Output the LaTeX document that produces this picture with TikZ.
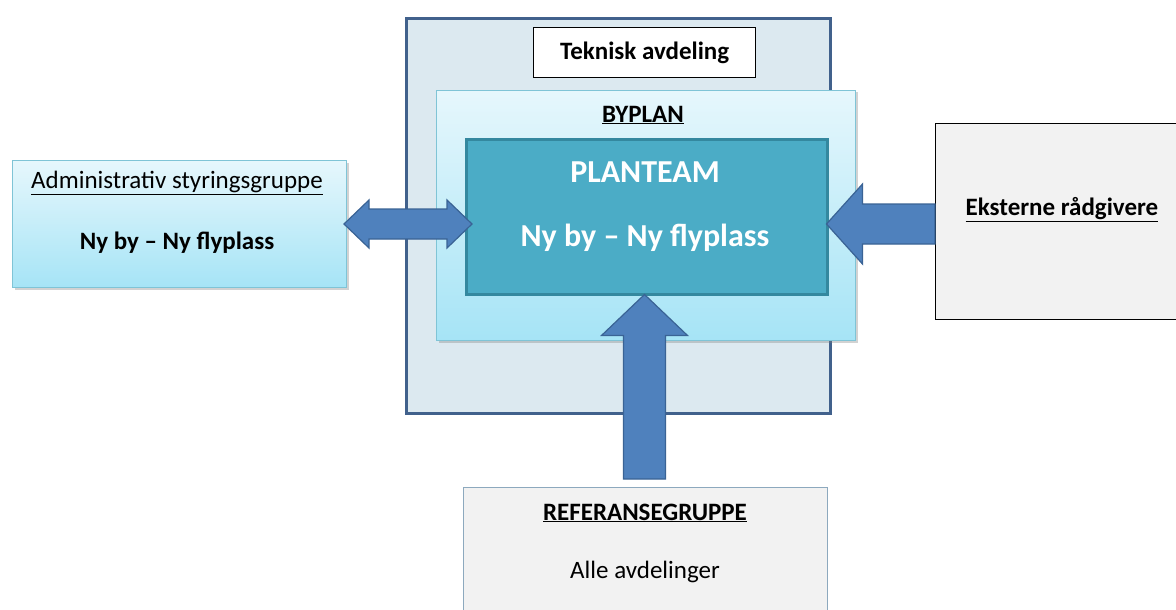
\documentclass[tikz,border=0pt]{standalone}
\usepackage{fontspec}
\setmainfont{Carlito}
\usetikzlibrary{shadows,calc}
\definecolor{outerfill}{HTML}{DCE9F0}
\definecolor{outerdraw}{HTML}{41618C}
\definecolor{teamfill}{HTML}{4BACC6}
\definecolor{teamdraw}{HTML}{34889F}
\definecolor{lighttop}{HTML}{E6F7FC}
\definecolor{lightbot}{HTML}{A6E4F6}
\definecolor{lightdraw}{HTML}{7FC4D6}
\definecolor{graybox}{HTML}{F2F2F2}
\definecolor{arrowfill}{HTML}{4F81BD}
\definecolor{arrowdraw}{HTML}{3A6395}
\definecolor{refdraw}{HTML}{8DA9BE}
\tikzset{
  x=1pt, y=1pt,
  boxbase/.style={rectangle, anchor=north west, inner sep=0pt},
  outerbox/.style={boxbase, fill=outerfill, draw=outerdraw, line width=3pt},
  whitebox/.style={boxbase, fill=white, draw=black, line width=1.2pt},
  gradbox/.style={boxbase, top color=lighttop, bottom color=lightbot, draw=lightdraw, line width=1pt,
     drop shadow={shadow xshift=2pt, shadow yshift=-2pt, opacity=0.35, fill=gray}},
  teambox/.style={boxbase, fill=teamfill, draw=teamdraw, line width=2.5pt},
  greybox/.style={boxbase, fill=graybox, draw=black, line width=1.2pt},
  refbox/.style={boxbase, fill=graybox, draw=refdraw, line width=1pt},
  blockarrow/.style={fill=arrowfill, draw=arrowdraw, line width=1.2pt, line join=miter},
  lbl/.style={inner sep=0pt, align=center, font=\fontsize{25}{30}\selectfont},
  lblb/.style={lbl, font=\fontsize{25}{30}\selectfont\bfseries},
  teamtxt/.style={inner sep=0pt, text=white, font=\fontsize{32}{38}\selectfont\bfseries},
}
\begin{document}
\begin{tikzpicture}
\useasboundingbox (0,0) rectangle (1176,-610);
\clip (0,0) rectangle (1176,-610);
\fill[white] (0,0) rectangle (1176,-610);

% boxes
\node[outerbox, minimum width=424, minimum height=395] (outer) at (405,-17) {};
\node[whitebox, minimum width=222, minimum height=50] (tek) at (533,-27) {};
\node[gradbox, minimum width=419, minimum height=250] (byplan) at (436,-90) {};
\node[teambox, minimum width=361, minimum height=155] (team) at (465,-138) {};
\node[gradbox, minimum width=334, minimum height=127] (admin) at (12,-160) {};
\node[greybox, minimum width=260, minimum height=196] (ekst) at (935,-123) {};
\node[refbox, minimum width=364, minimum height=150] (ref) at (463,-487) {};

% texts
\node[lblb] (tektxt) at (tek.center) {Teknisk avdeling};
\node[lblb] (byplantxt) at (643,-115) {\underline{BYPLAN}};
\node[teamtxt] (teamt1) at (645,-172) {PLANTEAM};
\node[teamtxt] (teamt2) at (645,-238) {Ny by – Ny flyplass};
\node[lbl] (admint1) at (177,-183) {\underline{Administrativ styringsgruppe}};
\node[lblb] (admint2) at (177,-243) {Ny by – Ny flyplass};
\node[lblb] (ekstt) at (1062,-210) {\underline{Eksterne rådgivere}};
\node[lblb] (reft1) at (645,-513) {\underline{REFERANSEGRUPPE}};
\node[lbl] (reft2) at (645,-572) {Alle avdelinger};

% double arrow admin <-> team
\coordinate (dA) at ($(admin.east)+(-3,0)$);
\coordinate (dB) at ($(team.west |- dA)+(7,0)$);
\draw[blockarrow]
  (dA) -- ($(dA)+(25,24)$) -- ($(dA)+(25,15)$) -- ($(dB)+(-25,15)$) -- ($(dB)+(-25,24)$) -- (dB)
  -- ($(dB)+(-25,-24)$) -- ($(dB)+(-25,-15)$) -- ($(dA)+(25,-15)$) -- ($(dA)+(25,-24)$) -- cycle;

% arrow ekst -> team
\coordinate (eA) at (ekst.west |- dA);
\coordinate (eB) at ($(team.east |- dA)+(-2,0)$);
\draw[blockarrow]
  ($(eA)+(0,20)$) -- ($(eB)+(36,20)$) -- ($(eB)+(36,40)$) -- (eB) -- ($(eB)+(36,-40)$)
  -- ($(eB)+(36,-20)$) -- ($(eA)+(0,-20)$) -- cycle;

% arrow ref -> team
\coordinate (rA) at ($(ref.north)+(-1,8)$);
\coordinate (rB) at ($(team.south -| rA)+(0,1)$);
\draw[blockarrow]
  ($(rA)+(-21,0)$) -- ($(rB)+(-21,-41)$) -- ($(rB)+(-43,-41)$) -- (rB) -- ($(rB)+(43,-41)$)
  -- ($(rB)+(21,-41)$) -- ($(rA)+(21,0)$) -- cycle;
\end{tikzpicture}
\end{document}
